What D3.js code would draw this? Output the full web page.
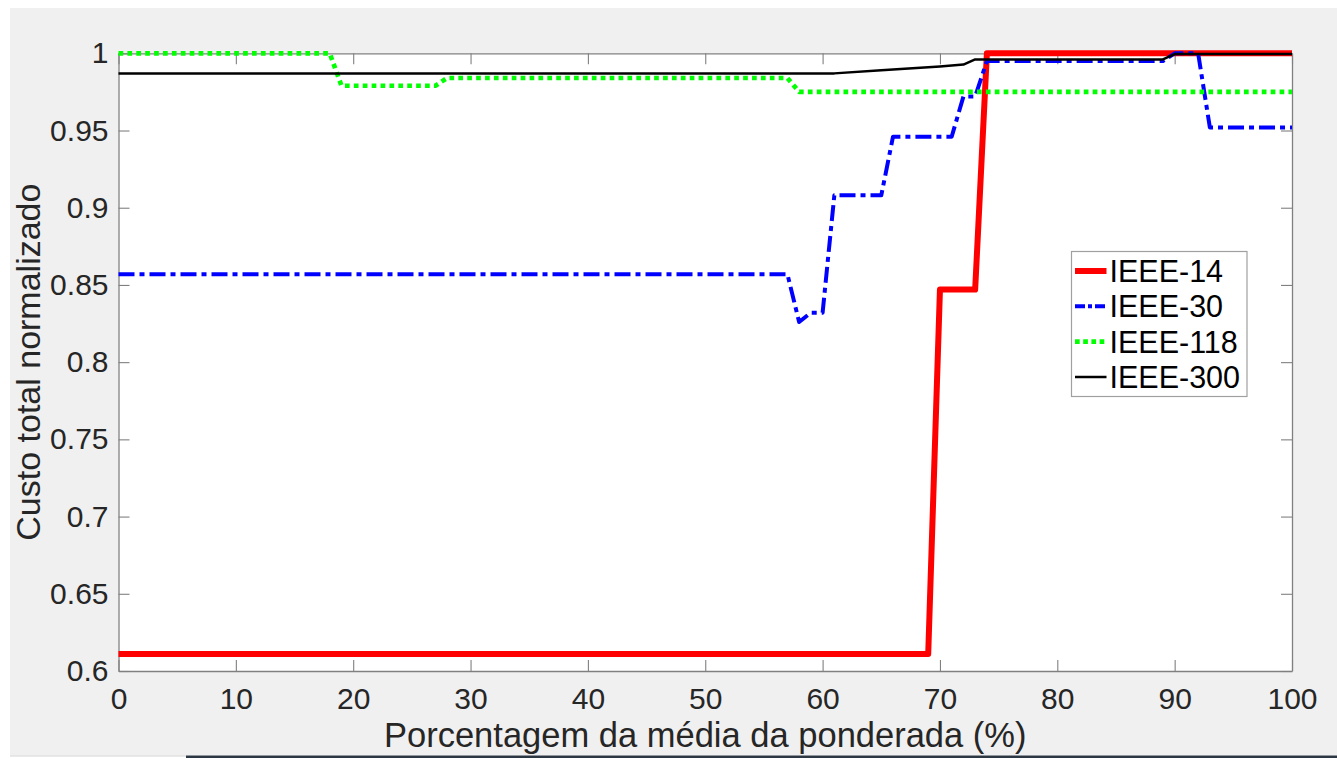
<!DOCTYPE html>
<html>
<head>
<meta charset="utf-8">
<script src="https://cdn.jsdelivr.net/npm/d3@7"></script>
<style>
  html, body { margin: 0; padding: 0; background: #ffffff; }
  svg { display: block; }
  text { font-family: "Liberation Sans", Arial, Helvetica, sans-serif; }
</style>
</head>
<body>
<svg id="chart" width="1337" height="758"></svg>
<script>
// ---------------- data ----------------
const seriesNames = ["IEEE-14", "IEEE-30", "IEEE-118", "IEEE-300"];

const x14 = [0, 69, 70, 73, 74, 100];
const y14 = [0.611, 0.611, 0.847, 0.847, 1.0, 1.0];

const x30 = [0, 57, 58, 59, 60, 61, 65, 66, 71, 72, 73, 74, 89, 90, 92, 93, 100];
const y30 = [0.857, 0.857, 0.826, 0.832, 0.832, 0.908, 0.908, 0.946, 0.946, 0.972, 0.972, 0.995, 0.995, 1.0, 1.0, 0.952, 0.952];

const x118 = [0, 18, 19, 27, 28, 57, 58, 100];
const y118 = [1.0, 1.0, 0.979, 0.979, 0.984, 0.984, 0.975, 0.975];

const x300 = [0, 61, 65, 70, 72, 73, 89, 90, 100];
const y300 = [0.987, 0.987, 0.989, 0.9915, 0.9927, 0.996, 0.996, 0.9995, 0.9995];

const xTicks = [0, 10, 20, 30, 40, 50, 60, 70, 80, 90, 100];
const xTickLabels = ["0", "10", "20", "30", "40", "50", "60", "70", "80", "90", "100"];
const yTicks = [0.6, 0.65, 0.7, 0.75, 0.8, 0.85, 0.9, 0.95, 1];
const yTickLabels = ["0.6", "0.65", "0.7", "0.75", "0.8", "0.85", "0.9", "0.95", "1"];

const xLabel = "Porcentagem da média da ponderada (%)";
const yLabel = "Custo total normalizado";

// ---------------- styles ----------------
const styles = [
  { color: "#ff0000", width: 6, dash: null, cap: "butt" },
  { color: "#0000ff", width: 4, dash: "16,5,5,5", cap: "butt" },
  { color: "#00ff00", width: 4.7, dash: "4.7,4.2", cap: "butt" },
  { color: "#000000", width: 2.5, dash: null, cap: "butt" }
];

// ---------------- layout ----------------
const svg = d3.select("#chart");
const W = 1337, H = 758;
const plot = { left: 118.5, right: 1292, top: 53.3, bottom: 671 };

// figure background
svg.append("rect").attr("x", 0).attr("y", 0).attr("width", W).attr("height", H).attr("fill", "#ffffff");
svg.append("rect").attr("x", 10).attr("y", 8).attr("width", W - 10).attr("height", 747.5).attr("fill", "#f0f0f0");
svg.append("rect").attr("x", 10).attr("y", 755.5).attr("width", 176).attr("height", 1).attr("fill", "#d4d4d4");
svg.append("rect").attr("x", 186).attr("y", 755.5).attr("width", W - 186).attr("height", 2.5).attr("fill", "#2c3744");

const x = d3.scaleLinear().domain([0, 100]).range([plot.left, plot.right]);
const y = d3.scaleLinear().domain([0.6, 1]).range([plot.bottom, plot.top]);

// plot area
svg.append("rect")
  .attr("x", plot.left).attr("y", plot.top)
  .attr("width", plot.right - plot.left).attr("height", plot.bottom - plot.top)
  .attr("fill", "#ffffff");

const axisColor = "#808080";
const labelColor = "#262626";
const tickLen = 11;

// axes (bottom, left with labels; top, right mirrored ticks)
const gx = svg.append("g").attr("transform", `translate(0,${plot.bottom})`)
  .call(d3.axisBottom(x).tickValues(xTicks).tickFormat((d, i) => xTickLabels[i]).tickSizeInner(-tickLen).tickSizeOuter(0).tickPadding(17));
const gy = svg.append("g").attr("transform", `translate(${plot.left},0)`)
  .call(d3.axisLeft(y).tickValues(yTicks).tickFormat((d, i) => yTickLabels[i]).tickSizeInner(-tickLen).tickSizeOuter(0).tickPadding(10));
const gxt = svg.append("g").attr("transform", `translate(0,${plot.top})`)
  .call(d3.axisTop(x).tickValues(xTicks).tickFormat("").tickSizeInner(-tickLen).tickSizeOuter(0));
const gyr = svg.append("g").attr("transform", `translate(${plot.right},0)`)
  .call(d3.axisRight(y).tickValues(yTicks).tickFormat("").tickSizeInner(-tickLen).tickSizeOuter(0));

[gx, gy, gxt, gyr].forEach(g => {
  g.select(".domain").attr("stroke", axisColor).attr("stroke-width", 1.3);
  g.selectAll(".tick line").attr("stroke", axisColor).attr("stroke-width", 1.1);
  g.selectAll(".tick text").attr("fill", labelColor).style("font-size", "30px")
    .style("font-family", '"Liberation Sans", Arial, Helvetica, sans-serif');
});
gx.selectAll(".tick text").attr("dy", "0.71em");

// axis titles
svg.append("text")
  .attr("x", (plot.left + plot.right) / 2).attr("y", 747)
  .attr("text-anchor", "middle").attr("fill", labelColor)
  .style("font-size", "34.5px").text(xLabel);
svg.append("text")
  .attr("transform", `translate(40,${(plot.top + plot.bottom) / 2}) rotate(-90)`)
  .attr("text-anchor", "middle").attr("fill", labelColor)
  .style("font-size", "34px").text(yLabel);

// series lines
const allX = [x14, x30, x118, x300];
const allY = [y14, y30, y118, y300];
const line = d3.line().x(d => x(d[0])).y(d => y(d[1]));

allX.forEach((xs, i) => {
  const pts = xs.map((v, j) => [v, allY[i][j]]);
  const s = styles[i];
  svg.append("path")
    .datum(pts)
    .attr("d", line)
    .attr("fill", "none")
    .attr("stroke", s.color)
    .attr("stroke-width", s.width)
    .attr("stroke-linejoin", "round")
    .attr("stroke-linecap", s.cap)
    .attr("stroke-dasharray", s.dash);
});

// legend
const lg = { x: 1071.5, y: 251.5, w: 175.5, h: 145 };
svg.append("rect")
  .attr("x", lg.x).attr("y", lg.y).attr("width", lg.w).attr("height", lg.h)
  .attr("fill", "#ffffff").attr("stroke", "#a0a0a0").attr("stroke-width", 1.2);
const rowY = d3.scalePoint().domain(seriesNames).range([271, 377]);
seriesNames.forEach((name, i) => {
  const s = styles[i];
  const cy = rowY(name);
  svg.append("line")
    .attr("x1", lg.x + 3.5).attr("x2", lg.x + 35)
    .attr("y1", cy).attr("y2", cy)
    .attr("stroke", s.color).attr("stroke-width", s.width)
    .attr("stroke-dasharray", i === 1 ? "10,3,4,3" : (i === 2 ? "4.7,3.5" : s.dash));
  svg.append("text")
    .attr("x", lg.x + 38).attr("y", cy).attr("dy", "0.36em")
    .attr("fill", "#000000").style("font-size", "30.5px")
    .text(name);
});
</script>
</body>
</html>
